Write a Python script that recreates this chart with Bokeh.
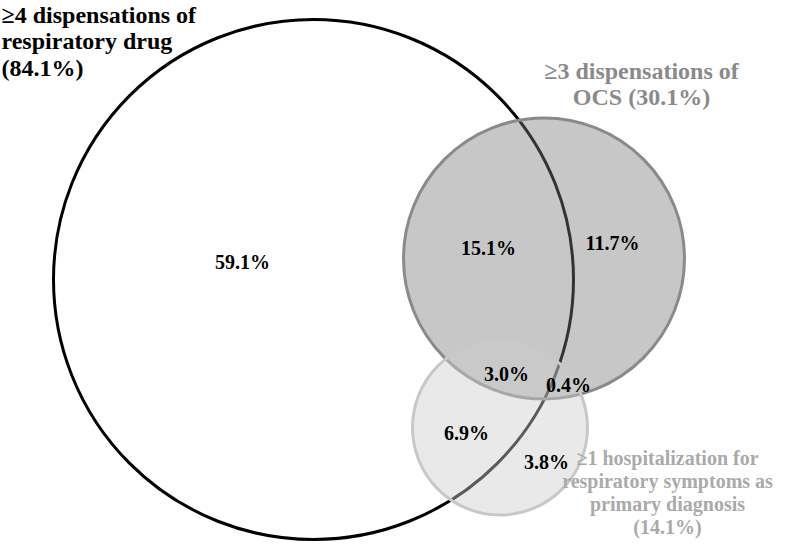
from bokeh.plotting import figure
from bokeh.models import Range1d, ColumnDataSource
from bokeh.core.properties import value
from bokeh.embed import file_html
from bokeh.resources import INLINE

# ---- data ----
set_names = ["≥4 dispensations of\nrespiratory drug", "≥3 dispensations of\nOCS", "≥1 hospitalization for\nrespiratory symptoms as\nprimary diagnosis"]
set_pct = [84.1, 30.1, 14.1]
region_names = ["drug only", "drug & OCS", "OCS only", "drug & OCS & hosp", "OCS & hosp", "drug & hosp", "hosp only"]
region_pct = [59.1, 15.1, 11.7, 3.0, 0.4, 6.9, 3.8]

# ---- layout (image pixel coordinates) ----
circ_x = [313, 543.5, 499.5]
circ_y = [279, 258, 427]
circ_r = [260, 140.5, 87.5]
circ_fill = ["white", "#797979", "#cccccc"]
circ_alpha = [1.0, 0.42, 0.44]
circ_line = ["black", "#8a8a8a", "#c8c8c8"]

reg_x = [242, 488, 612, 506, 568, 466, 546]
reg_y = [261, 247, 242, 373, 384, 432, 461]

W, H = 784, 541
p = figure(width=W, height=H, output_backend="svg", toolbar_location=None,
           x_range=Range1d(0, W), y_range=Range1d(H, 0), min_border=0)
p.axis.visible = False
p.grid.visible = False
p.outline_line_color = None
p.background_fill_color = "white"
p.border_fill_color = "white"

for i in range(3):
    p.circle(x=[circ_x[i]], y=[circ_y[i]], radius=circ_r[i],
             fill_color=circ_fill[i], fill_alpha=circ_alpha[i],
             line_color=circ_line[i], line_width=3)

font = value("Liberation Serif")

src = ColumnDataSource(dict(x=reg_x, y=reg_y, t=[f"{v:.1f}%" for v in region_pct]))
p.text(x="x", y="y", text="t", source=src, text_font=font, text_font_style="bold",
       text_font_size="20px", text_align="center", text_baseline="middle", text_color="black")

labels = [f"{n} ({v}%)" if i == 1 else f"{n}\n({v}%)" for i, (n, v) in enumerate(zip(set_names, set_pct))]
p.text(x=[1], y=[1], text=[labels[0]], text_font=font, text_font_style="bold",
       text_font_size="24px", text_align="left", text_baseline="top", text_color="black",
       text_line_height=1.02)
p.text(x=[641], y=[57], text=[labels[1]], text_font=font, text_font_style="bold",
       text_font_size="24px", text_align="center", text_baseline="top", text_color="#8a8a8a",
       text_line_height=1.02)
p.text(x=[667], y=[446], text=[labels[2]], text_font=font, text_font_style="bold",
       text_font_size="20px", text_align="center", text_baseline="top", text_color="#aaaaaa",
       text_line_height=1.05)

open("out.html", "w").write(file_html(p, INLINE))
